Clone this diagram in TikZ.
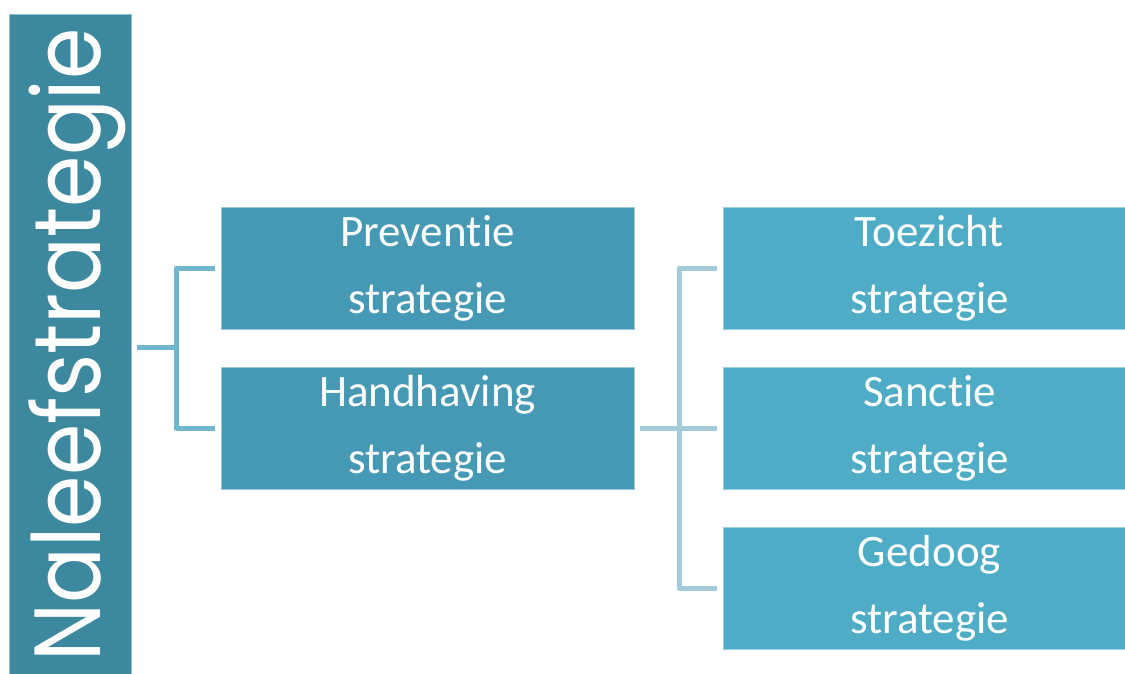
\documentclass[tikz,border=0pt]{standalone}
\usepackage{fontspec}
\setmainfont{Carlito}[RawFeature={-liga;-clig;-calt;-dlig}]
\newfontfamily\titlefont{Poppins}
\newcommand{\nolig}{\kern0pt}
\definecolor{naleefblue}{HTML}{3C889E}
\definecolor{midblue}{HTML}{4599B4}
\definecolor{rightblue}{HTML}{4EACC7}
\definecolor{linkone}{HTML}{70B6CC}
\definecolor{linktwo}{HTML}{A3CCDB}

\begin{document}
\begin{tikzpicture}[x=1pt, y=-1pt,
         B/.style = {fill=#1, draw=#1!55!white, line width=0.8pt,
                     text=white, align=center, inner sep=0pt, outer sep=6pt,
                     font=\fontsize{45}{67}\selectfont},
         M/.style = {B=midblue, minimum width=413pt, minimum height=122pt},
         R/.style = {B=rightblue, minimum width=413pt, minimum height=122pt},
      link/.style = {draw=#1, line width=5pt, line join=round}
                    ]
\useasboundingbox (0,0) rectangle (1125,673);
% left column
\node (naleef) [B=naleefblue, minimum width=122pt, minimum height=666pt] at (70,347) {};
\node (naleeftxt) [rotate=90, anchor=base, text=white,
                   font=\titlefont\fontsize{94}{94}\selectfont] at (100,345)
      {\scalebox{0.88}[1]{Naleefstrategie}};
% middle column
\node (preventie) [M] at (427.5,268) {Preven\nolig tie\\strategie};
\node (handhaving) [M] at (427.5,428) {Handhaving\\strategie};
% right column
\node (toezicht) [R] at (929.5,268) {Toezicht\\strategie};
\node (sanctie) [R] at (929.5,428) {Sanc\nolig tie\\strategie};
\node (gedoog) [R] at (929.5,588) {Gedoog\\strategie};
% connectors
\draw [link=linkone] (naleef.east) -- ++(39,0) coordinate (lsplit) |- (preventie.west);
\draw [link=linkone] (lsplit) |- (handhaving.west);
\draw [link=linktwo] (handhaving.east) -- ++(39,0) coordinate (rsplit) -- (sanctie.west);
\draw [link=linktwo] (rsplit) |- (toezicht.west);
\draw [link=linktwo] (rsplit) |- (gedoog.west);
\end{tikzpicture}
\end{document}
